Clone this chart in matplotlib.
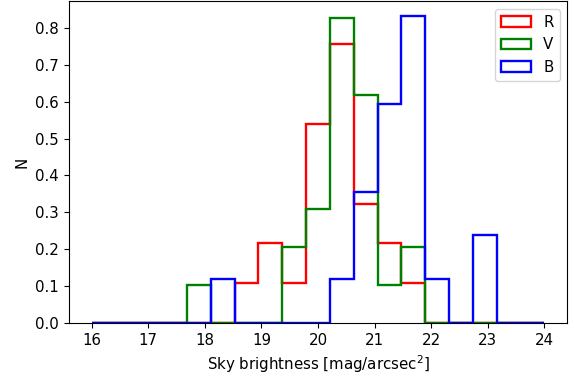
import numpy as np
import matplotlib
matplotlib.use("Agg")
import matplotlib.pyplot as plt

plt.rcParams['font.size'] = 10.8

# bin edges (19 bins between 16 and 24)
edges = np.linspace(16, 24, 20)
centers = (edges[:-1] + edges[1:]) / 2

# counts per bin for each filter
counts_R = [0, 0, 0, 0, 0, 0, 1, 2, 1, 5, 7, 3, 2, 1, 0, 0, 0, 0, 0]
counts_V = [0, 0, 0, 0, 1, 0, 0, 0, 2, 3, 8, 6, 1, 2, 0, 0, 0, 0, 0]
counts_B = [0, 0, 0, 0, 0, 1, 0, 0, 0, 0, 1, 3, 5, 7, 1, 0, 2, 0, 0]

fig = plt.figure(figsize=(5.74, 3.8), dpi=100)
ax = fig.add_subplot(111)
ax.hist(centers, bins=edges, weights=counts_R, density=True, histtype='step',
        color='r', lw=1.7, label='R')
ax.hist(centers, bins=edges, weights=counts_V, density=True, histtype='step',
        color='g', lw=1.7, label='V')
ax.hist(centers, bins=edges, weights=counts_B, density=True, histtype='step',
        color='b', lw=1.7, label='B')

ax.set_xlabel('Sky brightness [mag/arcsec$^2$]')
ax.set_ylabel('N')
ax.legend(loc='upper right')

plt.subplots_adjust(left=0.12, right=0.988, top=0.997, bottom=0.15)
plt.savefig('out.png', dpi=100)
